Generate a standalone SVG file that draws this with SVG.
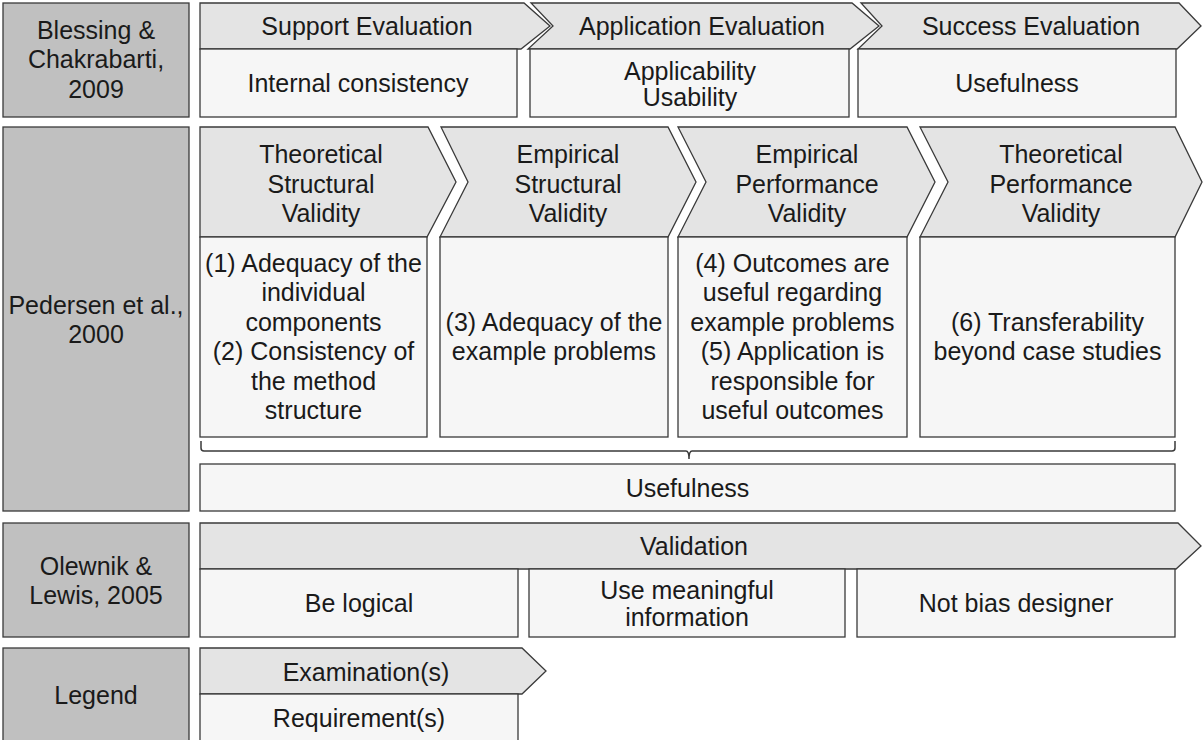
<svg xmlns="http://www.w3.org/2000/svg" width="1204" height="740" viewBox="0 0 1204 740">
<style>
.src{fill:#c0c0c0;stroke:#3a3a3a;stroke-width:1.3}
.hd{fill:#e4e4e4;stroke:#3a3a3a;stroke-width:1.3;stroke-linejoin:miter}
.bx{fill:#f6f6f6;stroke:#3a3a3a;stroke-width:1.3}
text{font-family:"Liberation Sans",Arial,sans-serif;font-size:25px;fill:#1a1a1a;text-anchor:middle}
.br{fill:none;stroke:#3a3a3a;stroke-width:1.5}
</style>
<rect width="1204" height="740" fill="#ffffff"/>

<g id="blessing-label">
<rect class="src" x="3" y="3" width="186" height="114"/>
<text x="96" y="39">Blessing &amp;</text>
<text x="96" y="68">Chakrabarti,</text>
<text x="96" y="98">2009</text>
</g>
<g id="support-evaluation">
<path class="hd" d="M200,3 L524,3 L550,26 L521,49 L200,49 Z"/>
<text x="367" y="35">Support Evaluation</text>
</g>
<g id="internal-consistency">
<rect class="bx" x="200" y="49" width="317" height="68"/>
<text x="358" y="92">Internal consistency</text>
</g>
<g id="application-evaluation">
<path class="hd" d="M531,3 L852,3 L879,26 L850,49 L528,49 L553,26 Z"/>
<text x="702" y="35">Application Evaluation</text>
</g>
<g id="applicability-usability">
<rect class="bx" x="530" y="49" width="319" height="68"/>
<text x="690" y="80">Applicability</text>
<text x="690" y="106">Usability</text>
</g>
<g id="success-evaluation">
<path class="hd" d="M861,3 L1179,3 L1201,26 L1177,49 L858,49 L882,26 Z"/>
<text x="1031" y="35">Success Evaluation</text>
</g>
<g id="usefulness-1">
<rect class="bx" x="858" y="49" width="318" height="68"/>
<text x="1017" y="92">Usefulness</text>
</g>

<g id="pedersen-label">
<rect class="src" x="3" y="127" width="186" height="384"/>
<text x="96" y="314">Pedersen et al.,</text>
<text x="96" y="343">2000</text>
</g>
<g id="theoretical-structural">
<path class="hd" d="M200,127 L428,127 L456,182 L427,237 L200,237 Z"/>
<text x="321" y="163">Theoretical</text>
<text x="321" y="193">Structural</text>
<text x="321" y="222">Validity</text>
</g>
<g id="req-1-2">
<rect class="bx" x="200" y="237" width="227" height="200"/>
<text x="313.5" y="272">(1) Adequacy of the</text>
<text x="313.5" y="301">individual</text>
<text x="313.5" y="331">components</text>
<text x="313.5" y="360">(2) Consistency of</text>
<text x="313.5" y="390">the method</text>
<text x="313.5" y="419">structure</text>
</g>
<g id="empirical-structural">
<path class="hd" d="M441,127 L668,127 L696,182 L668,237 L440,237 L468,182 Z"/>
<text x="568" y="163">Empirical</text>
<text x="568" y="193">Structural</text>
<text x="568" y="222">Validity</text>
</g>
<g id="req-3">
<rect class="bx" x="440" y="237" width="228" height="200"/>
<text x="554" y="331">(3) Adequacy of the</text>
<text x="554" y="360">example problems</text>
</g>
<g id="empirical-performance">
<path class="hd" d="M678,127 L907,127 L935,182 L907,237 L678,237 L706,182 Z"/>
<text x="807" y="163">Empirical</text>
<text x="807" y="193">Performance</text>
<text x="807" y="222">Validity</text>
</g>
<g id="req-4-5">
<rect class="bx" x="678" y="237" width="229" height="200"/>
<text x="792.5" y="272">(4) Outcomes are</text>
<text x="792.5" y="301">useful regarding</text>
<text x="792.5" y="331">example problems</text>
<text x="792.5" y="360">(5) Application is</text>
<text x="792.5" y="390">responsible for</text>
<text x="792.5" y="419">useful outcomes</text>
</g>
<g id="theoretical-performance">
<path class="hd" d="M920,127 L1175,127 L1202,182 L1175,237 L920,237 L948,182 Z"/>
<text x="1061" y="163">Theoretical</text>
<text x="1061" y="193">Performance</text>
<text x="1061" y="222">Validity</text>
</g>
<g id="req-6">
<rect class="bx" x="920" y="237" width="255" height="200"/>
<text x="1047.5" y="331">(6) Transferability</text>
<text x="1047.5" y="360">beyond case studies</text>
</g>
<g id="usefulness-2">
<rect class="bx" x="200" y="464" width="975" height="47"/>
<text x="687.5" y="497">Usefulness</text>
</g>

<g id="olewnik-label">
<rect class="src" x="3" y="523" width="186" height="114"/>
<text x="96" y="575">Olewnik &amp;</text>
<text x="96" y="604">Lewis, 2005</text>
</g>
<g id="validation">
<path class="hd" d="M200,523 L1178,523 L1201,546 L1176,569 L200,569 Z"/>
<text x="694" y="555">Validation</text>
</g>
<g id="be-logical">
<rect class="bx" x="200" y="569" width="318" height="68"/>
<text x="359" y="612">Be logical</text>
</g>
<g id="use-meaningful">
<rect class="bx" x="529" y="569" width="316" height="68"/>
<text x="687" y="599">Use meaningful</text>
<text x="687" y="626">information</text>
</g>
<g id="not-bias">
<rect class="bx" x="857" y="569" width="318" height="68"/>
<text x="1016" y="612">Not bias designer</text>
</g>

<g id="legend-label">
<rect class="src" x="3" y="648" width="186" height="100"/>
<text x="96" y="704">Legend</text>
</g>
<g id="legend-examination">
<path class="hd" d="M200,648 L522,648 L546,671 L522,694 L200,694 Z"/>
<text x="366" y="681">Examination(s)</text>
</g>
<g id="legend-requirement">
<rect class="bx" x="200" y="694" width="318" height="54"/>
<text x="359" y="727">Requirement(s)</text>
</g>

<g id="connectors">
<path class="br" d="M201,441 L201,448 Q201,451 204,451 L686,451 Q689,451 689,459 Q689,451 692,451 L1172,451 Q1175,451 1175,448 L1175,441"/>
</g>
</svg>
